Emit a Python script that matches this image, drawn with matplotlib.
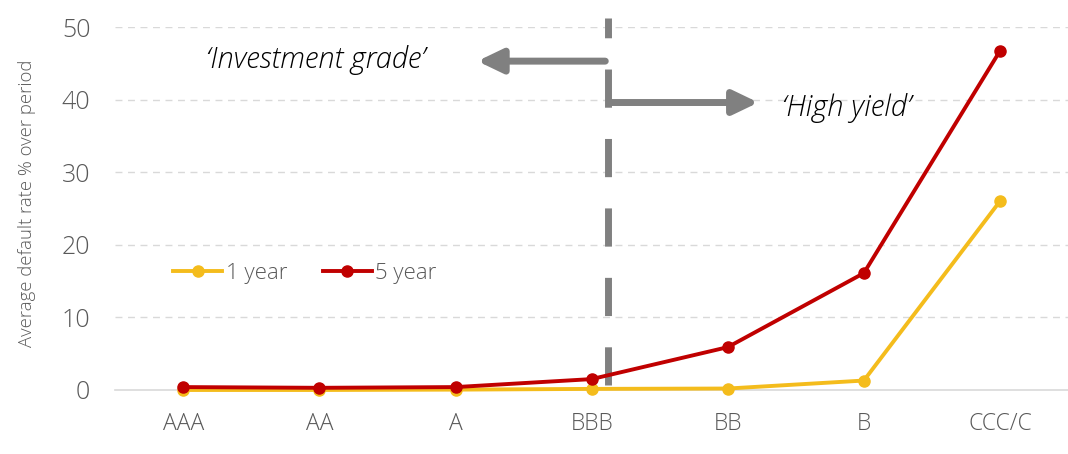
import matplotlib.pyplot as plt

plt.rcParams.update({
    "font.family": ["Open Sans", "DejaVu Sans"],
    "axes.unicode_minus": False,
})

RATINGS = ["AAA", "AA", "A", "BBB", "BB", "B", "CCC/C"]
ONE_YEAR = [0.0, 0.0, 0.05, 0.15, 0.2, 1.3, 26.0]
FIVE_YEAR = [0.4, 0.3, 0.4, 1.5, 5.9, 16.1, 46.7]
Y_TICKS = [0, 10, 20, 30, 40, 50]

YELLOW = "#F4BC1C"
RED = "#C00000"
GREY = "#808080"
TEXT_GREY = "#595959"

fig = plt.figure(figsize=(10.68, 4.54), dpi=100)
ax = fig.add_axes([0.108, 0.141, 0.892, 0.7995])

x = list(range(len(RATINGS)))
ax.plot(x, ONE_YEAR, color=YELLOW, lw=2.8, marker="o", ms=8, label="1 year",
        clip_on=False, zorder=3)
ax.plot(x, FIVE_YEAR, color=RED, lw=2.8, marker="o", ms=8, label="5 year",
        clip_on=False, zorder=4)

ax.set_xlim(-0.5, len(RATINGS) - 0.5)
ax.set_ylim(0, 50)
ax.set_xticks(x)
ax.set_xticklabels(RATINGS)
ax.set_yticks(Y_TICKS)
ax.tick_params(axis="both", length=0, colors=TEXT_GREY)
ax.tick_params(axis="x", labelsize=16.5, pad=16)
ax.tick_params(axis="y", labelsize=18, pad=18)
for lbl in ax.get_xticklabels() + ax.get_yticklabels():
    lbl.set_fontweight("light")

for v in Y_TICKS[1:]:
    ax.axhline(v, color="#D9D9D9", lw=1, ls=(0, (5, 4)), zorder=1)

for side in ["top", "right", "left"]:
    ax.spines[side].set_visible(False)
ax.spines["bottom"].set_color("#D9D9D9")
ax.spines["bottom"].set_linewidth(1.2)

ax.set_ylabel("Average default rate % over period", fontsize=13.3, color=TEXT_GREY,
              fontweight="light")
ax.yaxis.set_label_coords(-0.083, 0.515)

# boundary between investment grade and high yield
ax.plot([3.118, 3.118], [0.7, 51.2], color=GREY, lw=5, ls=(0, (5.5, 4.5)),
        clip_on=False, zorder=2)

arrow = dict(arrowstyle="-|>,head_length=0.75,head_width=0.36", lw=5, color=GREY,
             mutation_scale=20, shrinkA=0, shrinkB=0)
ax.annotate("", xy=(2.16, 45.3), xytext=(3.1, 45.3), arrowprops=arrow,
            annotation_clip=False)
ax.annotate("", xy=(4.225, 39.6), xytext=(3.135, 39.6), arrowprops=arrow,
            annotation_clip=False)

ax.text(0.97, 45.4, "\u2018Investment grade\u2019", fontsize=21, style="italic",
        fontweight="light", ha="center", va="center", color="black")
ax.text(4.87, 38.8, "\u2018High yield\u2019", fontsize=21, style="italic",
        fontweight="light", ha="center", va="center", color="black")

leg = ax.legend(loc="upper left", bbox_to_anchor=(0.04, 0.405), ncol=2,
                frameon=False, fontsize=16, handlelength=2.2, handletextpad=0.15,
                columnspacing=1.6, labelcolor=TEXT_GREY)
for t in leg.get_texts():
    t.set_fontweight("light")

fig.savefig("out.png", dpi=100)
